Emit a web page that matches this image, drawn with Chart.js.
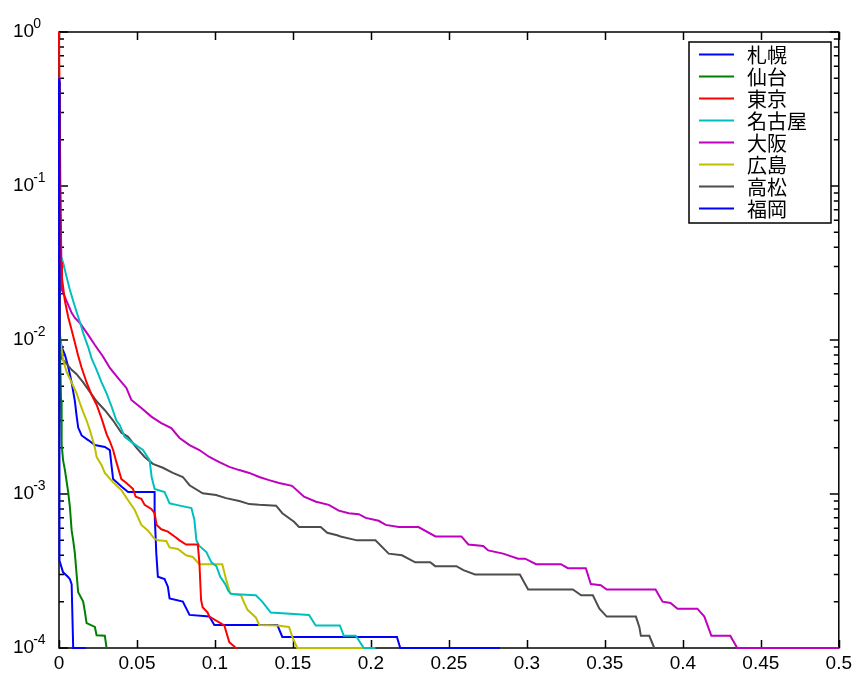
<!DOCTYPE html>
<html><head><meta charset="utf-8">
<script src="https://cdn.jsdelivr.net/npm/chart.js@4/dist/chart.umd.min.js"></script>
<style>html,body{margin:0;padding:0;background:#fff;}#wrap{width:856px;height:673px;}</style>
</head><body><div id="wrap"><canvas id="c" width="856" height="673"></canvas></div>
<script>
const seriesLabels = ['札幌','仙台','東京','名古屋','大阪','広島','高松','福岡'];
const seriesColors = ['#0000FF','#008000','#FF0000','#00BFBF','#BF00BF','#BFBF00','#4d4d4d','#0000FF'];
const xTicks = [0,0.05,0.1,0.15,0.2,0.25,0.3,0.35,0.4,0.45,0.5];
const yDecades = [1e-4,1e-3,1e-2,1e-1,1];

const sapporo = [[0,0.5],[0.0003,3.7e-4],[0.0026,3.1e-4],[0.0057,2.9e-4],[0.0070,2.8e-4],[0.0081,2.6e-4],[0.0091,1e-4],[0.0172,1e-4]];
const sendai = [[0,0.0105],[0.0006,0.0093],[0.0013,0.0041],[0.0017,0.0021],[0.0026,0.00166],[0.0038,0.00143],[0.0059,0.00103],[0.0070,8.2e-4],[0.0081,5.8e-4],[0.0091,5.0e-4],[0.0102,4.1e-4],[0.0113,3.0e-4],[0.0123,2.3e-4],[0.0155,2.0e-4],[0.0166,1.72e-4],[0.0177,1.45e-4],[0.0230,1.37e-4],[0.0241,1.21e-4],[0.0294,1.2e-4],[0.0305,1e-4]];
const tokyo = [[0,1],[0.0013,0.0321],[0.0019,0.0252],[0.0038,0.0179],[0.0059,0.0141],[0.0081,0.0116],[0.0102,0.0096],[0.0123,0.0079],[0.0145,0.0066],[0.0177,0.0053],[0.0209,0.0044],[0.0241,0.0038],[0.0273,0.0031],[0.0305,0.00245],[0.0326,0.0022],[0.0347,0.00193],[0.0368,0.00161],[0.0400,0.00125],[0.0432,0.00118],[0.0474,0.00108],[0.0492,9.6e-4],[0.0528,9.3e-4],[0.0549,8.5e-4],[0.0592,8.0e-4],[0.0613,7.5e-4],[0.0626,6.3e-4],[0.0656,5.9e-4],[0.0698,5.7e-4],[0.0741,5.3e-4],[0.0773,5.0e-4],[0.0815,4.7e-4],[0.0890,4.7e-4],[0.0900,3.6e-4],[0.0911,2.05e-4],[0.0921,1.84e-4],[0.0953,1.7e-4],[0.0964,1.6e-4],[0.1060,1.4e-4],[0.1092,1.09e-4],[0.1135,1e-4],[0.1145,1e-4]];
const nagoya = [[0,0.041],[0.001,0.0356],[0.0027,0.0316],[0.0049,0.0256],[0.0070,0.0211],[0.0091,0.0179],[0.0113,0.0152],[0.0134,0.0131],[0.0155,0.0111],[0.0187,0.0090],[0.0209,0.0076],[0.0241,0.0064],[0.0273,0.0053],[0.0305,0.0045],[0.0337,0.0037],[0.0368,0.0030],[0.0390,0.0028],[0.0421,0.00235],[0.0474,0.00214],[0.0538,0.00193],[0.0581,0.00166],[0.0594,0.00129],[0.0613,0.00108],[0.0677,0.00103],[0.0709,8.7e-4],[0.0752,8.5e-4],[0.0849,8.1e-4],[0.0868,6.8e-4],[0.0881,5.0e-4],[0.0900,4.6e-4],[0.0945,4.2e-4],[0.0977,3.6e-4],[0.1009,3.4e-4],[0.1034,2.9e-4],[0.1066,2.6e-4],[0.1086,2.35e-4],[0.1105,2.24e-4],[0.1262,2.2e-4],[0.1303,2.0e-4],[0.1358,1.7e-4],[0.1603,1.64e-4],[0.1646,1.4e-4],[0.1801,1.4e-4],[0.1826,1.2e-4],[0.1903,1.2e-4],[0.1954,1e-4],[0.2029,1e-4]];
const osaka = [[0,0.25],[0.0019,0.0211],[0.0081,0.0150],[0.0102,0.0139],[0.0134,0.0129],[0.0187,0.0108],[0.0230,0.00928],[0.0283,0.00779],[0.0326,0.00658],[0.0379,0.00566],[0.0432,0.00488],[0.0464,0.00408],[0.0528,0.00362],[0.0592,0.00318],[0.0656,0.00289],[0.0720,0.00268],[0.0773,0.00231],[0.0837,0.00208],[0.0900,0.00193],[0.0964,0.00174],[0.1028,0.00161],[0.1092,0.00150],[0.1156,0.00143],[0.1220,0.00137],[0.1284,0.00129],[0.1347,0.00123],[0.1411,0.00118],[0.1494,0.00113],[0.1571,9.6e-4],[0.1648,8.9e-4],[0.1730,8.5e-4],[0.1794,7.8e-4],[0.1858,7.5e-4],[0.1922,7.4e-4],[0.1967,7.0e-4],[0.2050,6.7e-4],[0.2095,6.3e-4],[0.2178,6.1e-4],[0.2305,6.1e-4],[0.2414,5.3e-4],[0.2580,5.3e-4],[0.2625,4.7e-4],[0.2720,4.6e-4],[0.2752,4.3e-4],[0.2848,4.1e-4],[0.2944,3.8e-4],[0.2989,3.8e-4],[0.3059,3.5e-4],[0.3218,3.5e-4],[0.3263,3.3e-4],[0.3378,3.3e-4],[0.3410,2.6e-4],[0.3474,2.56e-4],[0.3512,2.4e-4],[0.3825,2.4e-4],[0.3870,2.0e-4],[0.3921,1.96e-4],[0.3966,1.8e-4],[0.4093,1.8e-4],[0.4138,1.6e-4],[0.4183,1.2e-4],[0.4304,1.2e-4],[0.4349,1e-4],[0.5,1e-4]];
const hiroshima = [[0,0.0105],[0.001,0.0097],[0.0027,0.0074],[0.0049,0.0062],[0.0081,0.0053],[0.0113,0.0045],[0.0134,0.0039],[0.0155,0.0034],[0.0177,0.0030],[0.0198,0.0026],[0.0230,0.0020],[0.0241,0.00174],[0.0273,0.00154],[0.0294,0.00137],[0.0347,0.00119],[0.0400,0.00106],[0.0443,9.1e-4],[0.0485,7.9e-4],[0.0528,6.3e-4],[0.0570,5.8e-4],[0.0613,5.1e-4],[0.0634,5.0e-4],[0.0688,4.95e-4],[0.0709,4.5e-4],[0.0762,4.4e-4],[0.0815,4.0e-4],[0.0858,3.9e-4],[0.0900,3.5e-4],[0.1047,3.5e-4],[0.1071,2.8e-4],[0.1098,2.26e-4],[0.1167,2.2e-4],[0.1188,1.96e-4],[0.1209,1.77e-4],[0.1262,1.58e-4],[0.1284,1.41e-4],[0.1400,1.4e-4],[0.1475,1.37e-4],[0.1496,1.18e-4],[0.1528,1e-4],[0.2007,1e-4]];
const takamatsu = [[0,0.475],[0.0006,0.0111],[0.0017,0.0076],[0.0038,0.0072],[0.0081,0.0064],[0.0113,0.0060],[0.0155,0.0053],[0.0198,0.0046],[0.0241,0.0040],[0.0294,0.0035],[0.0347,0.0030],[0.0400,0.0025],[0.0443,0.00235],[0.0496,0.0020],[0.0549,0.00174],[0.0602,0.00157],[0.0666,0.00148],[0.0730,0.00137],[0.0794,0.00129],[0.0837,0.00114],[0.0921,0.00101],[0.1007,9.85e-4],[0.1071,9.4e-4],[0.1156,9.0e-4],[0.1220,8.6e-4],[0.1284,8.5e-4],[0.1392,8.4e-4],[0.1432,7.5e-4],[0.1507,6.6e-4],[0.1539,6.1e-4],[0.1678,6.1e-4],[0.1720,5.6e-4],[0.1784,5.4e-4],[0.1805,5.3e-4],[0.1911,5.0e-4],[0.2029,5.0e-4],[0.2114,4.1e-4],[0.2199,4.0e-4],[0.2284,3.6e-4],[0.2380,3.6e-4],[0.2412,3.4e-4],[0.2548,3.4e-4],[0.2593,3.2e-4],[0.2667,3.0e-4],[0.2955,3.0e-4],[0.3008,2.4e-4],[0.3295,2.4e-4],[0.3348,2.2e-4],[0.3423,2.2e-4],[0.3465,1.8e-4],[0.3512,1.6e-4],[0.3699,1.6e-4],[0.3721,1.37e-4],[0.3731,1.2e-4],[0.3785,1.2e-4],[0.3817,1e-4]];
const fukuoka = [[0,0.362],[0.0006,0.0103],[0.0017,0.0090],[0.0038,0.0080],[0.0059,0.0067],[0.0081,0.0053],[0.0102,0.0040],[0.0113,0.0032],[0.0123,0.0027],[0.0145,0.0024],[0.0187,0.00224],[0.0230,0.00208],[0.0294,0.00202],[0.0326,0.00193],[0.0337,0.00152],[0.0347,0.00125],[0.0400,0.00112],[0.0443,0.00103],[0.0613,0.00103],[0.0613,7.5e-4],[0.0624,4.1e-4],[0.0634,2.9e-4],[0.0677,2.8e-4],[0.0698,2.5e-4],[0.0709,2.1e-4],[0.0794,2.0e-4],[0.0837,1.64e-4],[0.0964,1.6e-4],[0.0996,1.41e-4],[0.1400,1.41e-4],[0.1432,1.18e-4],[0.2167,1.18e-4],[0.2188,1e-4],[0.2827,1e-4]];

const seriesData = [sapporo, sendai, tokyo, nagoya, osaka, hiroshima, takamatsu, fukuoka];
const FONT = '"Liberation Sans", Arial, sans-serif';

const axesPlugin = {
  id: 'matlabAxes',
  beforeDatasetsDraw(chart) {
    const {ctx, chartArea: a, scales: {x, y}} = chart;
    ctx.save();
    ctx.strokeStyle = '#000';
    ctx.lineWidth = 1.5;
    ctx.beginPath();
    for (const v of xTicks) {
      const px = Math.round(x.getPixelForValue(v)) + 0.5;
      ctx.moveTo(px, a.bottom); ctx.lineTo(px, a.bottom - 8);
      ctx.moveTo(px, a.top); ctx.lineTo(px, a.top + 8);
    }
    for (let i = 0; i < yDecades.length; i++) {
      const d = yDecades[i];
      const py = y.getPixelForValue(d);
      ctx.moveTo(a.left, py); ctx.lineTo(a.left + 9, py);
      ctx.moveTo(a.right, py); ctx.lineTo(a.right - 9, py);
      if (i < yDecades.length - 1) {
        for (let m = 2; m <= 9; m++) {
          const pm = y.getPixelForValue(d * m);
          ctx.moveTo(a.left, pm); ctx.lineTo(a.left + 5, pm);
          ctx.moveTo(a.right, pm); ctx.lineTo(a.right - 5, pm);
        }
      }
    }
    ctx.stroke();
    ctx.strokeRect(a.left, a.top, a.right - a.left, a.bottom - a.top);
    ctx.restore();
  },
  afterDraw(chart) {
    const {ctx, scales: {y}} = chart;
    ctx.save();
    ctx.fillStyle = '#000';
    ctx.textAlign = 'left';
    ctx.textBaseline = 'alphabetic';
    for (const d of yDecades) {
      const py = y.getPixelForValue(d);
      const e = Math.round(Math.log10(d));
      ctx.font = '19px ' + FONT;
      ctx.fillText('10', 13, py + 5);
      const w = ctx.measureText('10').width;
      ctx.font = '14px ' + FONT;
      ctx.fillText(String(e), 13 + w - 1, py - 4.5);
    }
    const bx = 689, by = 42, bw = 142, bh = 181;
    ctx.fillStyle = '#fff';
    ctx.fillRect(bx, by, bw, bh);
    ctx.strokeStyle = '#000';
    ctx.lineWidth = 1.5;
    ctx.strokeRect(bx, by, bw, bh);
    ctx.font = '20px "Noto Sans CJK JP", sans-serif';
    ctx.textBaseline = 'middle';
    chart.data.datasets.forEach((ds, i) => {
      const ly = 54.5 + 22 * i;
      ctx.strokeStyle = ds.borderColor;
      ctx.lineWidth = 2;
      ctx.beginPath(); ctx.moveTo(699, ly); ctx.lineTo(734, ly); ctx.stroke();
      ctx.fillStyle = '#000';
      ctx.fillText(ds.label, 747, ly + 1);
    });
    ctx.restore();
  }
};

new Chart(document.getElementById('c'), {
  type: 'line',
  data: {
    datasets: seriesData.map((s, i) => ({
      label: seriesLabels[i],
      data: s.map(p => ({x: p[0], y: p[1]})),
      borderColor: seriesColors[i],
      backgroundColor: seriesColors[i],
      borderWidth: 2,
      pointRadius: 0,
      tension: 0,
      fill: false,
      clip: 6
    }))
  },
  options: {
    responsive: false,
    devicePixelRatio: 1,
    animation: false,
    layout: {padding: {left: 0, right: 13, top: 32, bottom: 0}},
    plugins: {legend: {display: false}, tooltip: {enabled: false}},
    scales: {
      x: {
        type: 'linear', min: 0, max: 0.5,
        grid: {display: false, drawTicks: false},
        border: {display: false},
        afterBuildTicks: s => { s.ticks = xTicks.map(v => ({value: v})); },
        afterFit: s => { s.height = 25; },
        ticks: {
          padding: 4, color: '#000', maxRotation: 0, autoSkip: false,
          font: {family: FONT, size: 19},
          callback: v => String(parseFloat(Number(v).toFixed(2)))
        }
      },
      y: {
        type: 'logarithmic', min: 1e-4, max: 1,
        grid: {display: false, drawTicks: false},
        border: {display: false},
        ticks: {display: false},
        afterFit: s => { s.width = 59; }
      }
    }
  },
  plugins: [axesPlugin]
});
</script>
</body></html>
